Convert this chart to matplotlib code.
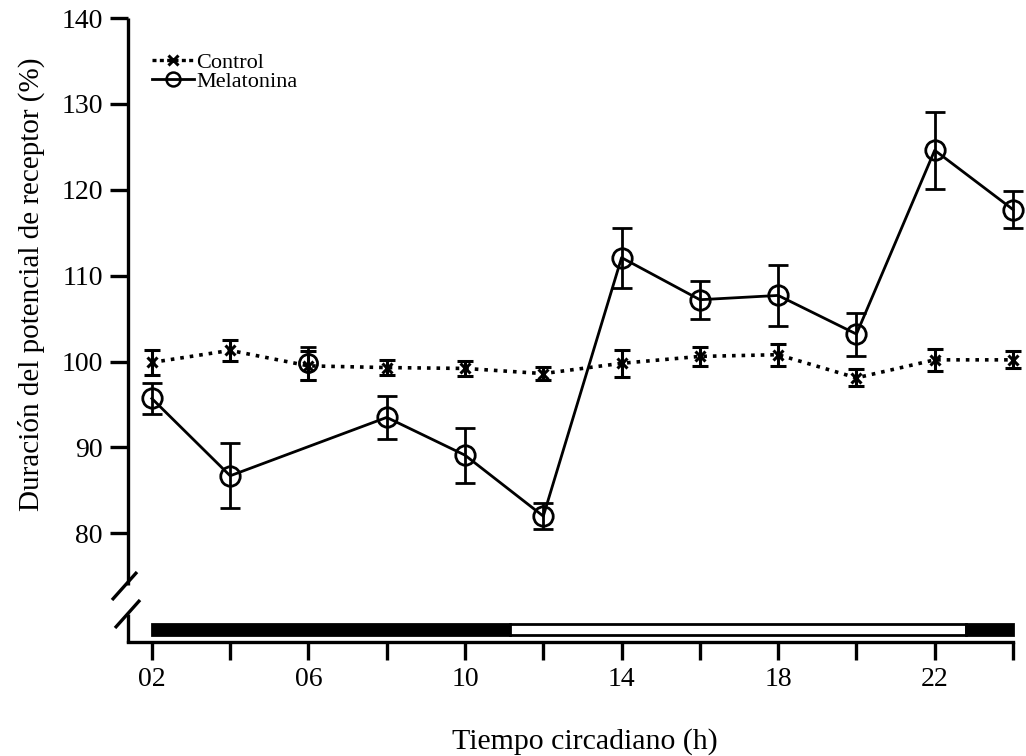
import matplotlib
matplotlib.use("Agg")
import numpy as np
import matplotlib.pyplot as plt
from matplotlib.lines import Line2D

plt.rcParams['font.family'] = ['Liberation Serif', 'DejaVu Serif']

hours = [2, 4, 6, 8, 10, 12, 14, 16, 18, 20, 22, 24]
control = [99.9, 101.3, 99.5, 99.3, 99.2, 98.6, 99.8, 100.6, 100.8, 98.1, 100.2, 100.2]
control_err = [1.5, 1.2, 1.7, 0.9, 0.9, 0.8, 1.6, 1.1, 1.3, 1.0, 1.3, 1.0]
# Melatonina line (06 h point is drawn apart, not joined by the line)
mel_hours = [2, 4, 8, 10, 12, 14, 16, 18, 20, 22, 24]
melatonina = [95.7, 86.7, 93.5, 89.1, 82.0, 112.1, 107.2, 107.7, 103.2, 124.6, 117.7]
mel_err = [1.8, 3.8, 2.5, 3.2, 1.5, 3.5, 2.2, 3.6, 2.5, 4.5, 2.2]
mel_extra_hour = [6]
mel_extra = [99.8]
mel_extra_err = [1.9]

xtick_labels = ['02', '', '06', '', '10', '', '14', '', '18', '', '22', '']
yticks = [80, 90, 100, 110, 120, 130, 140]
# light/dark bar edges (hours) and fill colours
bar_edges = [2, 11.15, 22.8, 24]
bar_colors = ['black', 'white', 'black']

fig = plt.figure(figsize=(10.26, 7.56), dpi=100)
ax = fig.add_axes([128/1026, 1-642/756, (1013-128)/1026, (642-18)/756])
ax.set_xlim(1.39, 24.0)
ax.set_ylim(67.35, 140)

ax.errorbar(hours, control, yerr=control_err, fmt='x', linestyle=':', color='black',
            lw=2.6, ms=7, mew=2.2, capsize=5.5, capthick=2.8, elinewidth=2.2,
            clip_on=False, zorder=3)
ax.errorbar(mel_hours, melatonina, yerr=mel_err, fmt='o', linestyle='-', color='black',
            lw=2.0, ms=14, mew=2.0, mfc='none', capsize=7, capthick=2.2, elinewidth=2.0,
            clip_on=False, zorder=4)
ax.errorbar(mel_extra_hour, mel_extra, yerr=mel_extra_err, fmt='o', linestyle='none', color='black',
            ms=13, mew=2.0, mfc='none', capsize=6, capthick=2.4, elinewidth=2.0,
            clip_on=False, zorder=4)

# light/dark bar
for i in range(len(bar_colors)):
    ax.barh(68.8, bar_edges[i+1]-bar_edges[i], left=bar_edges[i], height=1.25,
            color=bar_colors[i], edgecolor='black', linewidth=2.0, clip_on=False, zorder=2)

ax.set_xticks(hours)
ax.set_xticklabels(xtick_labels)
ax.set_yticks(yticks)
ax.tick_params(axis='both', direction='out', length=13, width=2.4, labelsize=20, pad=5)
ax.tick_params(axis='x', pad=5)

for s in ['top', 'right', 'left']:
    ax.spines[s].set_visible(False)
ax.spines['bottom'].set_linewidth(2.4)

# broken left axis
tr = ax.transAxes
def px(xp, yp):
    return ((xp-128)/(1013-128), (642-yp)/(642-18))
kw = dict(transform=tr, color='black', lw=2.4, clip_on=False, solid_capstyle='butt')
segments = [((128, 18), (128, 585)), ((112, 600), (137, 572)),
            ((115, 628), (140, 600)), ((128, 614), (128, 643))]
for a, b in segments:
    p1, p2 = px(*a), px(*b)
    ax.plot([p1[0], p2[0]], [p1[1], p2[1]], **kw)

fig.text(31/1026, 1-284/756, 'Duración del potencial de receptor (%)', fontsize=21,
         rotation=90, ha='center', va='center')
fig.text(585/1026, 1-742/756, 'Tiempo circadiano (h)', fontsize=21.5, ha='center', va='center')

handles = [Line2D([], [], color='black', linestyle=(0, (1.2, 1.0)), lw=2.4, marker='x', ms=7, mew=2.2),
           Line2D([], [], color='black', linestyle='-', lw=2.0, marker='o', ms=10, mew=1.8, mfc='none')]
leg = ax.legend(handles, ['Control', 'Melatonina'], loc='upper left',
                bbox_to_anchor=(24/885, 1-(52-18)/624),
                frameon=False, fontsize=16, handlelength=1.9, handletextpad=0.1,
                labelspacing=-0.05, borderaxespad=0, borderpad=0)

fig.savefig('out.png', dpi=100)
